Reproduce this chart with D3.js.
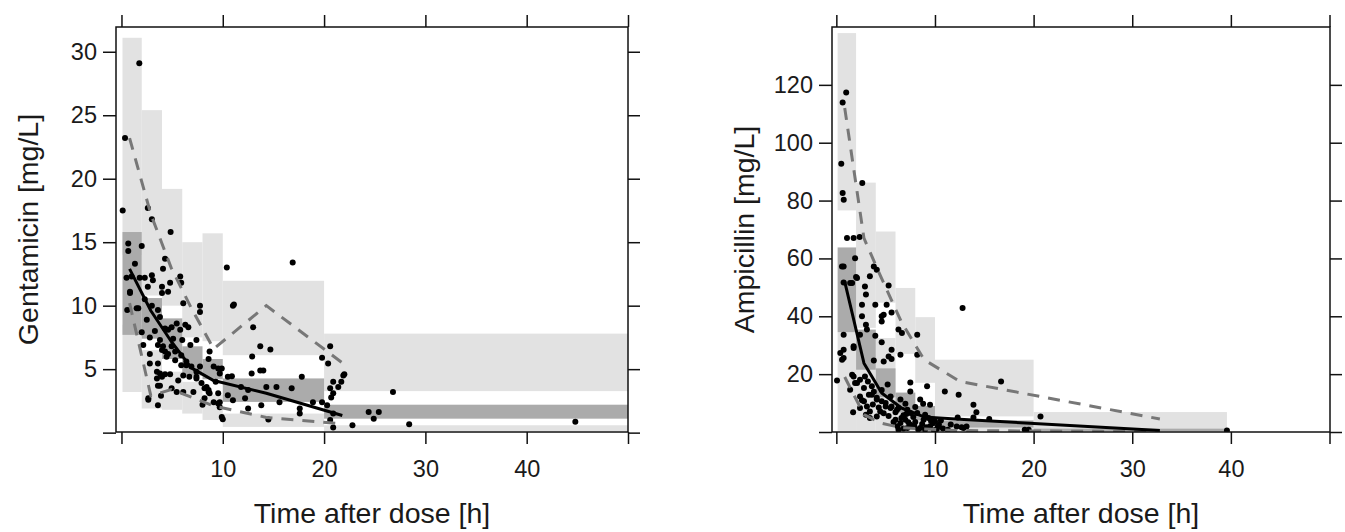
<!DOCTYPE html>
<html>
<head>
<meta charset="utf-8">
<script src="https://cdn.jsdelivr.net/npm/d3@7"></script>
<style>
  body { margin: 0; background: #fff; }
  svg text { font-family: "Liberation Sans", Arial, Helvetica, sans-serif; fill: #1a1a1a; }
</style>
</head>
<body>
<svg id="chart" width="1345" height="532"></svg>
<script>
// ---- Gentamicin ----
var gentEdges = [0.1, 2, 4, 6, 8, 10, 20, 50];
var gentUpLo  = [14, 10.8, 10.0, 7.5, 7.2, 6.1, 3.27];
var gentUpHi  = [31.1, 25.4, 19.2, 15.0, 15.7, 11.96, 7.8];
var gentMedLo = [7.7, 7.4, 5.8, 4.5, 4.2, 2.42, 1.1];
var gentMedHi = [15.8, 10.6, 9.0, 6.8, 5.8, 4.27, 2.2];
var gentLowLo = [3.2, 1.9, 1.8, 1.5, 1.0, 0.45, 0.13];
var gentLowHi = [8.5, 6.5, 4.8, 4.0, 3.0, 1.5, 0.58];
var gentBinTime = [0.8, 2.9, 4.9, 6.9, 9.1, 14.3, 21.8];
var gentP05 = [10.2, 2.9, 3.4, 2.8, 2.1, 1.2, 0.7];
var gentP50 = [12.9, 9.6, 7.2, 5.1, 4.1, 3.1, 1.35];
var gentP95 = [23.2, 17.2, 13.0, 9.8, 6.6, 10.0, 5.5];
var gentObs = [
  [1.76,29.1],[0.35,23.2],[0.12,17.5],[2.6,17.7],[3.0,16.8],[4.85,15.8],
  [0.67,14.9],[0.67,14.3],[2.0,14.7],[1.33,13.3],[0.5,12.2],[1.0,12.3],[1.8,12.2],[2.3,12.2],
  [3.0,12.4],[3.1,12.0],[4.1,12.9],[4.3,13.7],[5.8,12.3],[5.9,11.8],[10.4,13.0],[16.9,13.4],
  [0.84,11.1],[2.6,11.5],[4.0,11.5],[4.8,11.8],[4.6,11.1],[4.0,11.0],[6.1,10.2],[7.75,10.0],
  [7.75,9.5],[11.0,10.0],[0.57,9.65],[1.5,9.8],[3.0,10.0],[3.6,9.65],[3.8,9.1],[2.5,8.9],
  [2.0,7.9],[2.8,7.5],[4.3,8.2],[4.6,8.1],[4.95,8.3],[5.45,8.6],[5.8,8.1],[6.3,8.5],[6.6,8.3],
  [7.4,7.3],[13.0,8.3],[13.7,6.8],[14.7,6.55],[12.9,6.0],[20.6,6.8],[19.8,5.9],[20.4,5.45],
  [2.8,5.45],[3.6,5.45],[2.15,6.9],[3.6,6.9],[3.8,7.3],[4.1,6.8],[4.3,6.4],[4.0,6.5],
  [4.95,6.8],[5.3,6.4],[4.6,6.2],[5.9,6.1],[6.4,5.6],[5.9,5.3],[6.9,5.2],[7.4,4.8],[7.75,5.2],
  [8.6,5.8],[8.7,6.4],[9.1,5.2],[9.55,5.05],[9.9,5.05],[9.7,4.65],[10.5,4.4],[10.9,4.45],
  [12.85,4.65],[13.7,4.9],[14.0,4.9],[17.8,4.4],[21.9,4.5],[21.7,4.0],[20.9,4.0],[21.4,3.6],
  [20.6,3.5],[20.9,3.1],[26.8,3.2],[24.4,1.63],[25.4,1.63],[24.9,1.1],[22.8,0.58],[20.9,0.4],
  [10.0,1.06],[2.65,2.6],[3.6,2.16],[3.8,4.65],[4.0,4.4],[3.8,3.7],[4.3,4.6],[4.8,4.6],
  [4.95,3.5],[5.45,3.2],[6.1,3.2],[7.4,4.27],[7.9,3.9],[8.4,3.6],[8.6,3.35],[8.7,3.1],
  [9.55,3.1],[10.5,2.95],[11.0,2.55],[9.7,2.4],[12.5,3.35],[14.3,3.6],[15.3,3.6],[16.8,3.5],
  [13.8,2.16],[15.6,2.4],[17.6,1.9],[18.9,2.4],[12.5,1.9],[14.5,1.03],[17.6,1.5],[19.8,2.4],
  [20.3,2.16],[20.9,1.5],[20.6,1.0],[28.4,0.66],[44.8,0.85],[11.1,10.1],[22.0,4.6],[20.7,2.77],
  [0.84,11.0],[1.66,9.8],[2.8,6.2],[3.5,4.8],[3.5,4.27],[3.6,3.7],[2.65,2.7],[4.45,5.97],
  [5.3,5.7],[6.1,4.5],[6.4,5.3],[6.7,4.4],[7.4,4.4],[8.2,3.5],[8.6,3.2],[8.2,2.7],[9.1,2.4],
  [9.55,2.3],[9.7,2.0],[9.9,1.24],
  [3.3,8.0],[5.1,7.4],[6.8,6.9],[5.6,4.1],[7.1,3.2],[8.0,2.2],[3.9,2.9],[11.8,3.6],[12.2,2.7],
  [9.3,4.0],[6.0,7.3],[2.3,10.5]
];

// ---- Ampicillin ----
var ampEdges = [0.13, 2, 4, 6, 8, 10, 20, 39.6];
var ampUpLo  = [76.6, 36, 44.7, 27, 17, 5.4, 1.2];
var ampUpHi  = [137.9, 86.2, 69.3, 49.8, 39.7, 25.0, 6.9];
var ampMedLo = [34.5, 21.5, 12, 6.7, 4, 1.5, 0.3];
var ampMedHi = [63.8, 35.4, 22, 13.6, 9, 4, 1.2];
var ampLowLo = [0.3, 0.3, 0.3, 0.3, 0.3, 0.2, 0.0];
var ampLowHi = [34.5, 21.5, 32.5, 13.6, 4, 1.5, 0.3];
var ampBinTime = [0.85, 2.8, 4.6, 6.6, 8.9, 12.5, 32.8];
var ampP05 = [19, 6, 3, 1.5, 1.0, 0.5, 0.1];
var ampP50 = [52, 23.8, 13.5, 8.3, 5.2, 4.4, 0.55];
var ampP95 = [112, 67, 53, 38, 25, 17.5, 4.5];
var ampObs = [
  [1.0,117.4],[0.64,113.9],[0.5,92.7],[2.63,86.1],[0.64,82.6],[0.75,80.3],[1.08,67.1],[1.75,67.1],
  [2.36,67.4],[1.9,60.1],[0.74,57.2],[3.8,57.2],[4.1,56.1],[3.4,53.8],[0.74,51.7],[1.4,51.5],
  [2.0,53.6],[5.3,50.6],[2.9,50.3],[3.0,47.5],[2.6,44],[3.95,44],[5.1,44],[5.6,41.3],[4.8,40.5],
  [2.6,40],[3.0,37.1],[4.6,38.2],[6.3,35.4],[6.65,34.2],[8.2,33.6],[0.74,33.6],[3.95,33.3],
  [4.6,31],[6.5,26.7],[0.4,27.3],[0.58,25],[1.75,29],[3.8,24.7],[4.8,24.4],[5.6,25.2],
  [0.07,17.8],[1.75,19.2],[1.9,16.9],[2.9,19.2],[1.4,14.6],[7.5,17.1],[9.2,15.8],[11.0,14.0],
  [2.4,12.3],[3.6,12.9],[4.1,11.2],[5.0,10.0],[5.5,8.3],[6.15,7.7],[6.5,11.2],[1.7,6.8],[3.4,4.8],
  [7.5,14],[8.5,11.2],[9.5,9.4],[0.57,57.2],[12.8,42.9],[16.7,17.5],[20.7,5.4],[12.4,12.9],
  [13.9,9.4],[14.2,6.8],[8.2,26.7],[10.0,3.7],[10.4,2.5],[12.2,1.9],[12.9,1.4],[19.5,0.8],
  [12.3,5.0],[13.9,5.0],[15.5,4.5],[12.7,1.6],[13.2,1.9],[19.1,0.8],[39.6,0.55],
  [6.0,4.25],[6.5,3.1],[7.0,4.25],[7.5,2.5],[8.2,6.6],[8.85,4.25],[9.35,4.8],[7.2,1.4],[8.5,1.4],
  [6.3,0.8],[5.6,8.8],[6.3,8.3],[7.2,7.7],[7.5,6.6],[4.1,11.8],[4.6,10.6],[5.0,8.8],[3.4,7.1],
  [4.1,5.4],[4.45,7.1],[2.8,10.6],[3.1,8.8],[2.4,8.3],[3.3,12.9],[2.8,15.2],[3.6,15.8],[2.1,16.9],
  [2.4,18.1],[1.6,19.8],[0.74,28.4],[0.74,25.6],[1.75,29.6],[5.3,26.1],[5.6,28.4],[2.4,33.6],
  [3.1,35.4],[4.6,40],[1.6,51.5],[2.1,53.2],
  [9.5,2.0],[9.8,3.0],[10.2,1.0],[10.6,4.0],[9.0,0.8],[8.0,3.5],[7.8,5.2],[6.8,5.8],[6.0,6.8],
  [7.0,9.8],[5.5,12.3],[4.6,14.5],[3.8,13.9],[3.2,17.5],[5.2,16.4],
  [6.2,2.0],[6.8,1.2],[7.3,3.4],[7.9,2.2],[8.3,0.9],[8.7,2.8],[9.1,1.6],[9.6,3.8],[9.9,0.6],
  [10.3,2.0],[10.8,1.2],[11.3,0.8],[5.8,3.5],[5.3,5.5],[4.8,6.5],[4.3,8.5],[3.7,9.5],[3.0,6.0],
  [2.6,11.0],[6.6,4.8],[7.1,6.2],[8.0,8.6],[9.0,6.0],[11.6,2.6],[8.8,9.8]
];

var LIGHT = "#e2e2e2", DARK = "#ababab";
var svg = d3.select("#chart");

function drawPanel(cfg) {
  var x = d3.scaleLinear().domain(cfg.xDomain).range([cfg.left, cfg.right]);
  var y = d3.scaleLinear().domain(cfg.yDomain).range([cfg.bottom, cfg.top]);
  var g = svg.append("g");

  var clip = "clip-" + cfg.id;
  g.append("clipPath").attr("id", clip).append("rect")
    .attr("x", cfg.left).attr("y", cfg.top)
    .attr("width", cfg.right - cfg.left).attr("height", cfg.bottom - cfg.top);
  var plot = g.append("g").attr("clip-path", "url(#" + clip + ")");

  // shaded bands, one rect per bin
  var bins = d3.range(cfg.edges.length - 1);
  function band(lo, hi, fill) {
    plot.append("g").selectAll("rect").data(bins).enter().append("rect")
      .attr("x", function(i) { return x(cfg.edges[i]); })
      .attr("width", function(i) { return x(cfg.edges[i + 1]) - x(cfg.edges[i]); })
      .attr("y", function(i) { return y(hi[i]); })
      .attr("height", function(i) { return y(lo[i]) - y(hi[i]); })
      .attr("fill", fill);
  }
  band(cfg.upLo, cfg.upHi, LIGHT);
  band(cfg.lowLo, cfg.lowHi, LIGHT);
  band(cfg.medLo, cfg.medHi, DARK);

  // observations
  plot.append("g").selectAll("circle").data(cfg.obs).enter().append("circle")
    .attr("cx", function(d) { return x(d[0]); })
    .attr("cy", function(d) { return y(d[1]); })
    .attr("r", 3).attr("fill", "#000");

  var line = d3.line()
    .x(function(d, i) { return x(cfg.binTime[i]); })
    .y(function(d) { return y(d); });
  [cfg.p05, cfg.p95].forEach(function(s) {
    plot.append("path").datum(s).attr("d", line)
      .attr("fill", "none").attr("stroke", "#777")
      .attr("stroke-width", 3).attr("stroke-dasharray", "12,9");
  });
  plot.append("path").datum(cfg.p50).attr("d", line)
    .attr("fill", "none").attr("stroke", "#000").attr("stroke-width", 3)
    .attr("stroke-linejoin", "round");

  // axes on all four sides, labels bottom/left only
  var fmtX = function(d) { return cfg.xLabels.indexOf(d) >= 0 ? d : ""; };
  var fmtY = function(d) { return cfg.yLabels.indexOf(d) >= 0 ? d : ""; };
  var axB = g.append("g").attr("transform", "translate(0," + cfg.bottom + ")")
    .call(d3.axisBottom(x).tickValues(cfg.xTicks).tickSize(12).tickPadding(16).tickFormat(fmtX));
  var axT = g.append("g").attr("transform", "translate(0," + cfg.top + ")")
    .call(d3.axisTop(x).tickValues(cfg.xTicks).tickSize(12).tickFormat(""));
  var axL = g.append("g").attr("transform", "translate(" + cfg.left + ",0)")
    .call(d3.axisLeft(y).tickValues(cfg.yTicks).tickSize(13).tickPadding(6).tickFormat(fmtY));
  var axR = g.append("g").attr("transform", "translate(" + cfg.right + ",0)")
    .call(d3.axisRight(y).tickValues(cfg.yTicks).tickSize(12).tickFormat(""));
  [axB, axT, axL, axR].forEach(function(a) {
    a.select(".domain").remove();
    a.selectAll("line").attr("stroke", "#111").attr("stroke-width", 1.5);
    a.selectAll("text").attr("font-size", 23.5).attr("fill", "#1a1a1a")
      .style("font-family", "'Liberation Sans', Arial, sans-serif");
  });

  g.append("rect")
    .attr("x", cfg.left).attr("y", cfg.top)
    .attr("width", cfg.right - cfg.left).attr("height", cfg.bottom - cfg.top)
    .attr("fill", "none").attr("stroke", "#111").attr("stroke-width", 1.5);

  g.append("text")
    .attr("x", (cfg.left + cfg.right) / 2).attr("y", 523)
    .attr("text-anchor", "middle").attr("font-size", 28.5)
    .text("Time after dose [h]");
  g.append("text")
    .attr("transform", "translate(" + cfg.yTitleX + "," + (cfg.top + cfg.bottom) / 2 + ") rotate(-90)")
    .attr("text-anchor", "middle").attr("font-size", 28.5)
    .text(cfg.yTitle);
}

drawPanel({
  id: "gent", left: 116, right: 628, top: 27, bottom: 432,
  xDomain: [-0.54, 50.0], yDomain: [0.05, 31.95],
  xTicks: [0, 10, 20, 30, 40, 50], xLabels: [10, 20, 30, 40],
  yTicks: [0, 5, 10, 15, 20, 25, 30], yLabels: [5, 10, 15, 20, 25, 30],
  edges: gentEdges, upLo: gentUpLo, upHi: gentUpHi, medLo: gentMedLo, medHi: gentMedHi,
  lowLo: gentLowLo, lowHi: gentLowHi, binTime: gentBinTime,
  p05: gentP05, p50: gentP50, p95: gentP95, obs: gentObs,
  yTitle: "Gentamicin [mg/L]", yTitleX: 38
});

drawPanel({
  id: "amp", left: 832, right: 1330, top: 27, bottom: 432,
  xDomain: [-0.44, 50.05], yDomain: [0, 140.0],
  xTicks: [0, 10, 20, 30, 40, 50], xLabels: [10, 20, 30, 40],
  yTicks: [0, 20, 40, 60, 80, 100, 120], yLabels: [20, 40, 60, 80, 100, 120],
  edges: ampEdges, upLo: ampUpLo, upHi: ampUpHi, medLo: ampMedLo, medHi: ampMedHi,
  lowLo: ampLowLo, lowHi: ampLowHi, binTime: ampBinTime,
  p05: ampP05, p50: ampP50, p95: ampP95, obs: ampObs,
  yTitle: "Ampicillin [mg/L]", yTitleX: 754
});
</script>
</body>
</html>
